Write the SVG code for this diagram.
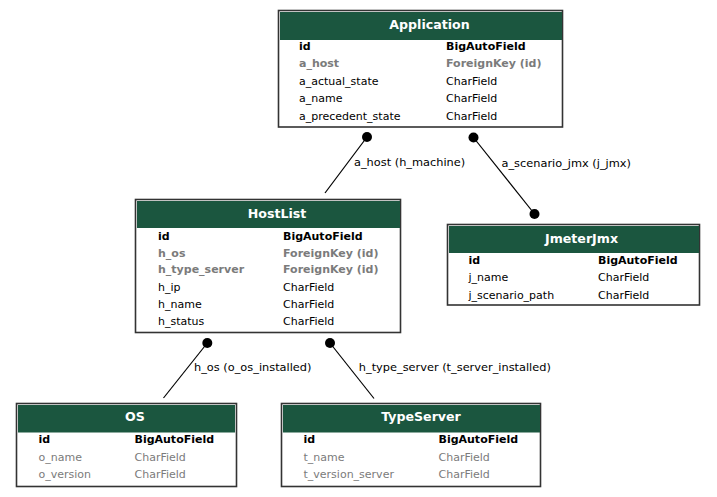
<svg xmlns="http://www.w3.org/2000/svg" width="717" height="497" viewBox="0 0 717 497">
<style>
  text { font-family: "DejaVu Sans", "Liberation Sans", sans-serif; font-size: 11px; fill: #000; }
  .lbl { font-size: 11.35px; }
  .box { fill: #fff; stroke: #333; stroke-width: 1.6; }
  .hdr { fill: #1b563f; }
  .title { font-size: 12.6px; font-weight: bold; fill: #fff; text-anchor: middle; }
  .b { font-weight: bold; }
  .g { fill: #7b7b7b; }
  .edge { stroke: #000; stroke-width: 1.2; fill: none; }
  .dot { fill: #000; }
</style>
<rect width="717" height="497" fill="#fff"/>

<g id="connectors">
  <line class="edge" x1="367" y1="137" x2="325" y2="193"/>
  <circle class="dot" cx="367" cy="137" r="5"/>
  <text class="lbl" x="354" y="166">a_host (h_machine)</text>

  <line class="edge" x1="473.5" y1="137.5" x2="534.5" y2="214"/>
  <circle class="dot" cx="473.5" cy="137.5" r="5"/>
  <circle class="dot" cx="534.5" cy="214" r="5"/>
  <text class="lbl" x="501.5" y="166.5">a_scenario_jmx (j_jmx)</text>

  <line class="edge" x1="207.3" y1="343" x2="163.5" y2="398"/>
  <circle class="dot" cx="207.3" cy="343" r="5"/>
  <text class="lbl" x="194" y="370.7">h_os (o_os_installed)</text>

  <line class="edge" x1="330" y1="343" x2="374" y2="398.5"/>
  <circle class="dot" cx="330" cy="343" r="5"/>
  <text class="lbl" x="358.8" y="370.7">h_type_server (t_server_installed)</text>
</g>

<g id="Application">
  <rect class="box" x="278.5" y="10.5" width="284" height="116.5"/>
  <rect class="hdr" x="280" y="12" width="282" height="28"/>
  <text class="title" x="429.5" y="28.5">Application</text>
  <text class="b" x="299" y="50">id</text><text class="b" x="446" y="50">BigAutoField</text>
  <text class="b g" x="299" y="67">a_host</text><text class="b g" x="446" y="67">ForeignKey (id)</text>
  <text x="299" y="85">a_actual_state</text><text x="446" y="85">CharField</text>
  <text x="299" y="102">a_name</text><text x="446" y="102">CharField</text>
  <text x="299" y="119.5">a_precedent_state</text><text x="446" y="119.5">CharField</text>
</g>

<g id="HostList">
  <rect class="box" x="135.5" y="199.5" width="265" height="133"/>
  <rect class="hdr" x="137" y="201" width="263" height="27"/>
  <text class="title" x="277" y="217.5">HostList</text>
  <text class="b" x="158" y="240">id</text><text class="b" x="283" y="240">BigAutoField</text>
  <text class="b g" x="158" y="256.7">h_os</text><text class="b g" x="283" y="256.7">ForeignKey (id)</text>
  <text class="b g" x="158" y="273">h_type_server</text><text class="b g" x="283" y="273">ForeignKey (id)</text>
  <text x="158" y="290.7">h_ip</text><text x="283" y="290.7">CharField</text>
  <text x="158" y="308">h_name</text><text x="283" y="308">CharField</text>
  <text x="158" y="325">h_status</text><text x="283" y="325">CharField</text>
</g>

<g id="JmeterJmx">
  <rect class="box" x="447.5" y="224.5" width="252" height="80.5"/>
  <rect class="hdr" x="449" y="226" width="250" height="27"/>
  <text class="title" x="581.5" y="242.5">JmeterJmx</text>
  <text class="b" x="468.5" y="264">id</text><text class="b" x="598" y="264">BigAutoField</text>
  <text x="468.5" y="281">j_name</text><text x="598" y="281">CharField</text>
  <text x="468.5" y="298.5">j_scenario_path</text><text x="598" y="298.5">CharField</text>
</g>

<g id="OS">
  <rect class="box" x="16.5" y="403.5" width="220" height="83"/>
  <rect class="hdr" x="18" y="405" width="217" height="27.5"/>
  <text class="title" x="135" y="421">OS</text>
  <text class="b" x="38.5" y="443">id</text><text class="b" x="134.5" y="443">BigAutoField</text>
  <text class="g" x="38.5" y="461">o_name</text><text class="g" x="134.5" y="461">CharField</text>
  <text class="g" x="38.5" y="478.3">o_version</text><text class="g" x="134.5" y="478.3">CharField</text>
</g>

<g id="TypeServer">
  <rect class="box" x="281.5" y="403.5" width="259" height="83"/>
  <rect class="hdr" x="283" y="405" width="257" height="27.5"/>
  <text class="title" x="421" y="421">TypeServer</text>
  <text class="b" x="303.5" y="443">id</text><text class="b" x="438.5" y="443">BigAutoField</text>
  <text class="g" x="303.5" y="461">t_name</text><text class="g" x="438.5" y="461">CharField</text>
  <text class="g" x="303.5" y="478.3">t_version_server</text><text class="g" x="438.5" y="478.3">CharField</text>
</g>
</svg>
